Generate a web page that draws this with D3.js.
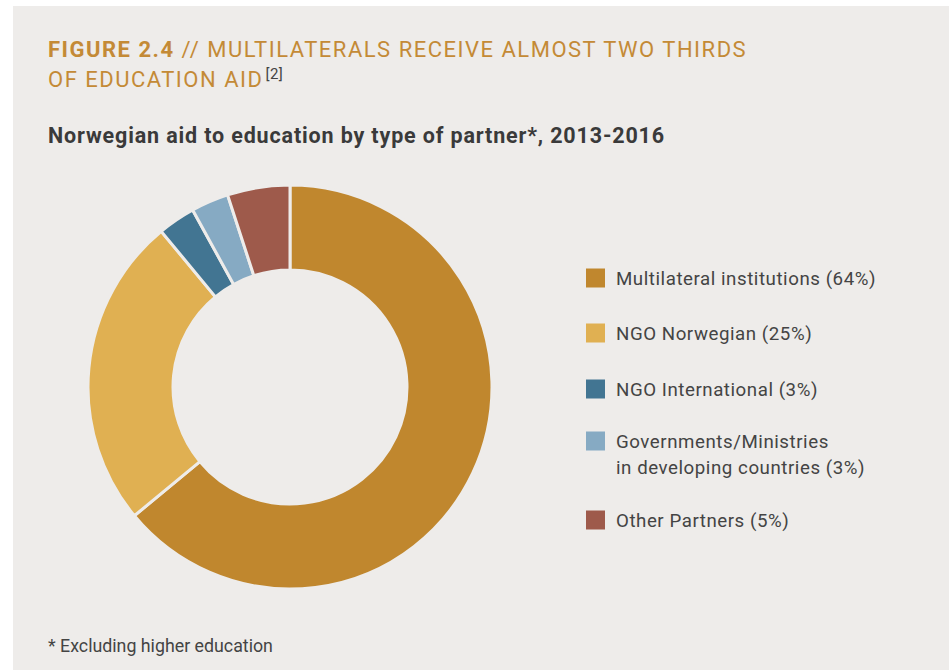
<!DOCTYPE html>
<html>
<head>
<meta charset="utf-8">
<script src="https://cdn.jsdelivr.net/npm/d3@7"></script>
<style>
  body { margin: 0; background: #fff; }
  svg text { font-family: "Roboto", "Liberation Sans", sans-serif; }
</style>
</head>
<body>
<svg width="949" height="670"></svg>
<script>
var categories = ["Multilateral institutions", "NGO Norwegian", "NGO International", "Governments/Ministries", "Other Partners"];
var labelLines = [
  ["Multilateral institutions (64%)"],
  ["NGO Norwegian (25%)"],
  ["NGO International (3%)"],
  ["Governments/Ministries", "in developing countries (3%)"],
  ["Other Partners (5%)"]
];
var shares = [64, 25, 3, 3, 5];
var colors = ["#c0872e", "#e0b052", "#427592", "#86aac3", "#9e5a4b"];

var svg = d3.select("svg");

// panel
svg.append("rect")
    .attr("x", 13).attr("y", 6)
    .attr("width", 949 - 13).attr("height", 670 - 6)
    .attr("fill", "#eeecea");

// title
var title = svg.append("text")
    .attr("x", 48).attr("y", 57)
    .attr("fill", "#c48a36")
    .style("font-size", "22px")
    .style("letter-spacing", "1.5px");
title.append("tspan").attr("font-weight", "bold").text("FIGURE 2.4");
title.append("tspan").text(" // MULTILATERALS RECEIVE ALMOST TWO THIRDS");

var title2 = svg.append("text")
    .attr("x", 48).attr("y", 87)
    .attr("fill", "#c48a36")
    .style("font-size", "22px")
    .style("letter-spacing", "1.5px");
title2.append("tspan").text("OF EDUCATION AID");
title2.append("tspan").attr("dx", 2).attr("dy", -8)
    .attr("fill", "#444").style("font-size", "15px")
    .style("letter-spacing", "0.5px").text("[2]");

svg.append("text")
    .attr("x", 48).attr("y", 143)
    .attr("fill", "#3a3a3a")
    .attr("font-weight", "bold")
    .style("font-size", "21.5px")
    .style("letter-spacing", "0.85px")
    .text("Norwegian aid to education by type of partner*, 2013-2016");

// donut
var cx = 290, cy = 387, outerR = 202, innerR = 117;

var data = categories.map(function(c, i) {
  return {name: c, value: shares[i], color: colors[i], lines: labelLines[i]};
});

var pie = d3.pie()
    .sort(null)
    .value(function(d) { return d.value; });

var arc = d3.arc()
    .innerRadius(innerR)
    .outerRadius(outerR);

var g = svg.append("g")
    .attr("transform", "translate(" + cx + "," + cy + ")");

g.selectAll("path")
  .data(pie(data))
  .enter().append("path")
    .attr("d", arc)
    .attr("fill", function(d) { return d.data.color; })
    .attr("stroke", "#eeecea")
    .attr("stroke-width", 3);

// legend
var rowY = [278, 333, 389, 441, 520];

var legend = svg.selectAll(".legend")
  .data(data)
  .enter().append("g")
    .attr("class", "legend")
    .attr("transform", function(d, i) { return "translate(586," + rowY[i] + ")"; });

legend.append("rect")
    .attr("x", 0).attr("y", -9.5)
    .attr("width", 19).attr("height", 19)
    .attr("fill", function(d) { return d.color; });

legend.append("text")
    .attr("x", 30)
    .attr("fill", "#444")
    .style("font-size", "18.7px")
    .style("letter-spacing", "0.55px")
  .selectAll("tspan")
  .data(function(d) { return d.lines; })
  .enter().append("tspan")
    .attr("x", 30)
    .attr("y", function(d, i) { return 6.5 + i * 26; })
    .text(function(d) { return d; });

svg.append("text")
    .attr("x", 48).attr("y", 652)
    .attr("fill", "#444")
    .style("font-size", "17.8px")
    .text("* Excluding higher education");
</script>
</body>
</html>
